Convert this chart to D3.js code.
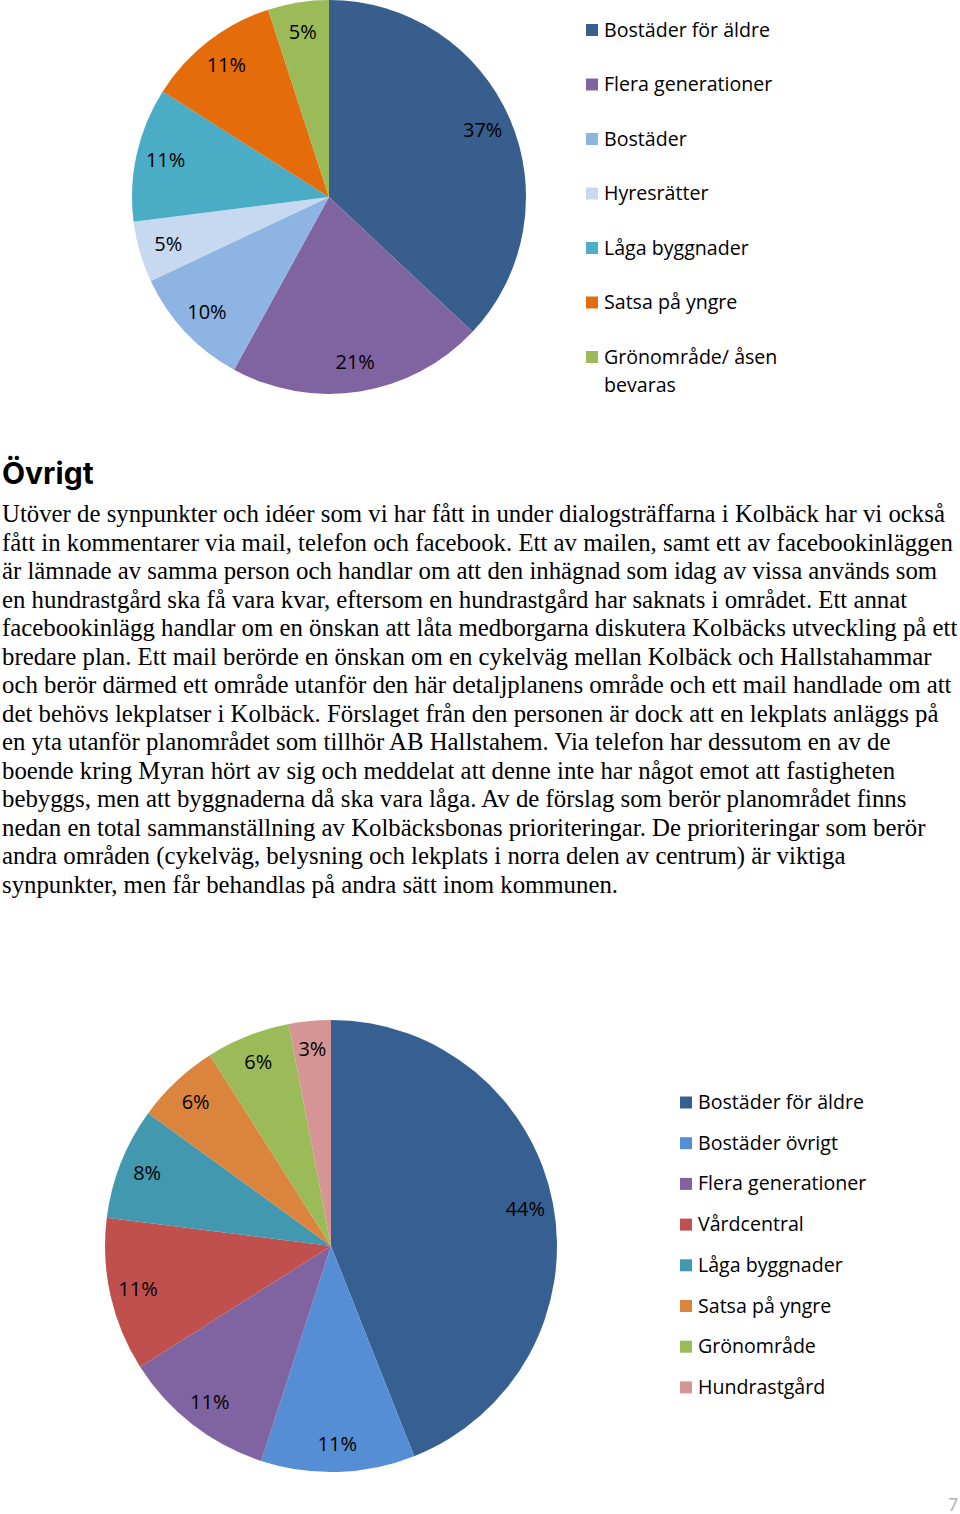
<!DOCTYPE html>
<html>
<head>
<meta charset="utf-8">
<script src="https://cdn.jsdelivr.net/npm/d3@7"></script>
<style>
  body { margin: 0; background: #fff; }
  svg { display: block; }
  .pie-label, .legend-label { font-family: "Open Sans", Lato, sans-serif; fill: #000; }
  .body-text { font-family: "Liberation Serif", "Times New Roman", serif; fill: #000; }
  .heading { font-family: Inter, "Open Sans", sans-serif; font-weight: 700; fill: #000; }
</style>
</head>
<body>
<div id="page"></div>
<script>
// first chart
const pie1Categories = ['Bostäder för äldre', 'Flera generationer', 'Bostäder', 'Hyresrätter',
  'Låga byggnader', 'Satsa på yngre', 'Grönområde/ åsen bevaras'];
const pie1Values = [37, 21, 10, 5, 11, 11, 5];
const pie1Colors = ['#375e8c', '#8064a2', '#8eb4e3', '#c6d9f1', '#4bacc6', '#e46c0a', '#9bbb59'];

// second chart
const pie2Categories = ['Bostäder för äldre', 'Bostäder övrigt', 'Flera generationer', 'Vårdcentral',
  'Låga byggnader', 'Satsa på yngre', 'Grönområde', 'Hundrastgård'];
const pie2Values = [44, 11, 11, 11, 8, 6, 6, 3];
const pie2Colors = ['#376092', '#558ed5', '#8064a2', '#c0504d', '#4198af', '#db843d', '#9bbb59', '#d69595'];

const headingText = 'Övrigt';
const bodyLines = [
  'Utöver de synpunkter och idéer som vi har fått in under dialogsträffarna i Kolbäck har vi också',
  'fått in kommentarer via mail, telefon och facebook. Ett av mailen, samt ett av facebookinläggen',
  'är lämnade av samma person och handlar om att den inhägnad som idag av vissa används som',
  'en hundrastgård ska få vara kvar, eftersom en hundrastgård har saknats i området. Ett annat',
  'facebookinlägg handlar om en önskan att låta medborgarna diskutera Kolbäcks utveckling på ett',
  'bredare plan. Ett mail berörde en önskan om en cykelväg mellan Kolbäck och Hallstahammar',
  'och berör därmed ett område utanför den här detaljplanens område och ett mail handlade om att',
  'det behövs lekplatser i Kolbäck. Förslaget från den personen är dock att en lekplats anläggs på',
  'en yta utanför planområdet som tillhör AB Hallstahem. Via telefon har dessutom en av de',
  'boende kring Myran hört av sig och meddelat att denne inte har något emot att fastigheten',
  'bebyggs, men att byggnaderna då ska vara låga. Av de förslag som berör planområdet finns',
  'nedan en total sammanställning av Kolbäcksbonas prioriteringar. De prioriteringar som berör',
  'andra områden (cykelväg, belysning och lekplats i norra delen av centrum) är viktiga',
  'synpunkter, men får behandlas på andra sätt inom kommunen.'
];
const pageNumber = '7';

const width = 960, height = 1514;

const svg = d3.select('#page').append('svg')
    .attr('width', width)
    .attr('height', height);

svg.append('rect')
    .attr('width', width)
    .attr('height', height)
    .attr('fill', '#fff');

/**
 * Draws one pie with its labels and a legend to the right.
 */
function drawPie(cfg) {
  const color = d3.scaleOrdinal()
    .domain(cfg.categories)
    .range(cfg.colors);

  const data = cfg.categories.map((c, i) => ({ cat: c, value: cfg.values[i] }));

  const pie = d3.pie()
    .sort(null)
    .value(d => d.value);

  const arc = d3.arc()
    .innerRadius(0)
    .outerRadius(cfg.radius);

  const labelArc = d3.arc()
    .innerRadius(cfg.radius * cfg.labelPos)
    .outerRadius(cfg.radius * cfg.labelPos);

  const g = svg.append('g')
    .attr('transform', `translate(${cfg.cx},${cfg.cy})`);

  const arcs = pie(data);

  g.selectAll('path')
    .data(arcs)
    .join('path')
      .attr('d', arc)
      .attr('fill', d => color(d.data.cat));

  g.selectAll('text')
    .data(arcs)
    .join('text')
      .attr('class', 'pie-label')
      .attr('transform', d => `translate(${labelArc.centroid(d)})`)
      .attr('text-anchor', 'middle')
      .attr('dy', '0.35em')
      .style('font-size', cfg.labelSize + 'px')
      .text(d => d.data.value + '%');

  // legend
  const legend = svg.append('g')
    .attr('transform', `translate(${cfg.legendX},${cfg.legendY})`);

  const items = legend.selectAll('g')
    .data(cfg.categories)
    .join('g')
      .attr('transform', (d, i) => `translate(0,${i * cfg.legendStep})`);

  items.append('rect')
    .attr('x', 0)
    .attr('y', -12.5)
    .attr('width', 12)
    .attr('height', 12)
    .attr('fill', d => color(d));

  items.append('text')
    .attr('class', 'legend-label')
    .attr('x', 18)
    .style('font-size', cfg.fontSize + 'px')
    .each(function(d) {
      const t = d3.select(this);
      // wrap long names the way the original legend does
      const lines = d.length > cfg.wrapAt ? [d.slice(0, d.lastIndexOf(' ')), d.slice(d.lastIndexOf(' ') + 1)] : [d];
      lines.forEach((line, j) => {
        t.append('tspan')
          .attr('x', 18)
          .attr('dy', j === 0 ? 0 : 28)
          .text(line);
      });
    });
}

drawPie({
  categories: pie1Categories,
  values: pie1Values,
  colors: pie1Colors,
  cx: 329, cy: 197, radius: 197, labelPos: 0.85,
  legendX: 586, legendY: 36.5, legendStep: 54.5,
  fontSize: 19.6, labelSize: 20, wrapAt: 20
});

drawPie({
  categories: pie2Categories,
  values: pie2Values,
  colors: pie2Colors,
  cx: 331, cy: 1246, radius: 226, labelPos: 0.875,
  legendX: 680, legendY: 1109, legendStep: 40.7,
  fontSize: 19.6, labelSize: 20, wrapAt: 30
});

// heading and paragraph
svg.append('text')
    .attr('class', 'heading')
    .attr('x', 2)
    .attr('y', 484)
    .style('font-size', '30px')
    .text(headingText);

svg.append('g')
  .selectAll('text')
  .data(bodyLines)
  .join('text')
    .attr('class', 'body-text')
    .attr('x', 2)
    .attr('y', (d, i) => 522 + i * 28.54)
    .style('font-size', '24.8px')
    .text(d => d);

svg.append('text')
    .attr('x', 958)
    .attr('y', 1511)
    .attr('text-anchor', 'end')
    .attr('fill', '#b0b0b0')
    .style('font-family', 'Lato, sans-serif')
    .style('font-size', '17px')
    .text(pageNumber);
</script>
</body>
</html>
